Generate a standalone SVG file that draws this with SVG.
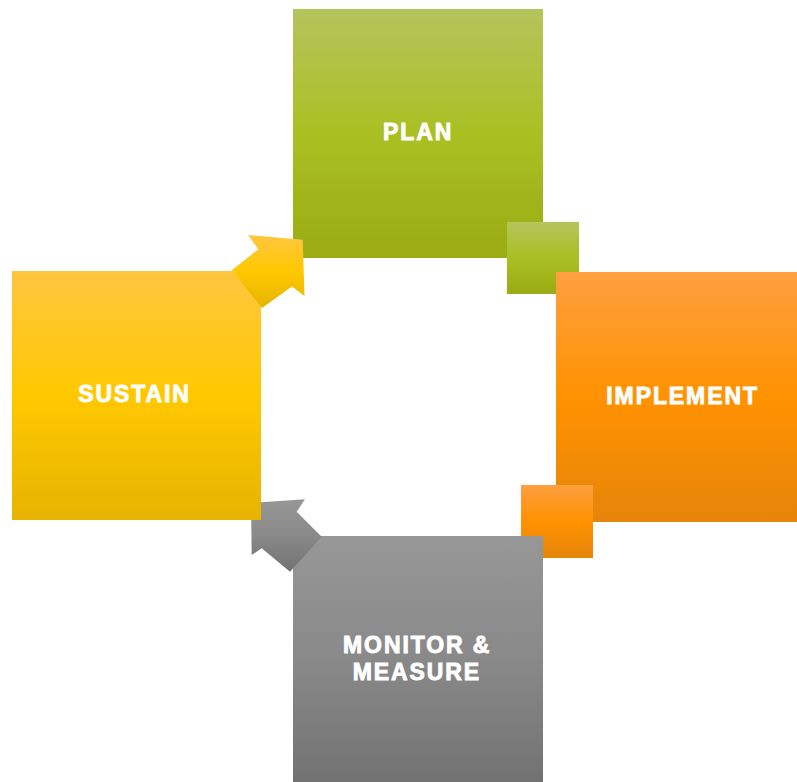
<svg xmlns="http://www.w3.org/2000/svg" width="797" height="782" viewBox="0 0 797 782">
  <defs>
    <linearGradient id="gGreen" x1="0" y1="0" x2="0" y2="1">
      <stop offset="0" stop-color="#b4c45c"/>
      <stop offset="0.5" stop-color="#a9c022"/>
      <stop offset="1" stop-color="#9aab13"/>
    </linearGradient>
    <linearGradient id="gOrange" x1="0" y1="0" x2="0" y2="1">
      <stop offset="0" stop-color="#ff9f40"/>
      <stop offset="0.5" stop-color="#ff9200"/>
      <stop offset="1" stop-color="#e6850a"/>
    </linearGradient>
    <linearGradient id="gYellow" x1="0" y1="0" x2="0" y2="1">
      <stop offset="0" stop-color="#ffc640"/>
      <stop offset="0.5" stop-color="#ffc800"/>
      <stop offset="1" stop-color="#e6b400"/>
    </linearGradient>
    <linearGradient id="gGray" x1="0" y1="0" x2="0" y2="1">
      <stop offset="0" stop-color="#979797"/>
      <stop offset="0.5" stop-color="#898989"/>
      <stop offset="1" stop-color="#727272"/>
    </linearGradient>
  </defs>
  <style>
    .lbl { font-family: "Liberation Sans", Arial, sans-serif; font-weight: bold; font-size: 23px; fill: #ffffff; stroke: #ffffff; stroke-width: 0.9px; text-anchor: middle; letter-spacing: 1.9px; }
  </style>
  <rect width="797" height="782" fill="#ffffff"/>

  <g id="plan">
    <rect x="293" y="9" width="250" height="249" fill="url(#gGreen)"/>
    <text class="lbl" x="418.2" y="139.5">PLAN</text>
  </g>
  <g id="connectors">
    <rect id="conn-plan-implement" x="507" y="222" width="72" height="72" fill="url(#gGreen)"/>
  </g>
  <g id="implement">
    <rect x="556" y="272" width="241" height="250" fill="url(#gOrange)"/>
    <text class="lbl" x="682.6" y="404.3">IMPLEMENT</text>
  </g>
  <g id="connectors2">
    <rect id="conn-implement-monitor" x="521" y="485" width="72" height="73" fill="url(#gOrange)"/>
  </g>
  <g id="monitor">
    <rect x="293" y="536" width="250" height="246" fill="url(#gGray)"/>
    <text class="lbl" x="417.2" y="652.7">MONITOR &amp;</text>
    <text class="lbl" x="416.8" y="680">MEASURE</text>
  </g>
  <g id="connectors3">
    <polygon id="conn-monitor-sustain" fill="url(#gGray)" points="251,503 305,499.3 296.7,511.7 321.7,536.7 290,571.7 261.7,548.3 251.7,555"/>
  </g>
  <g id="sustain">
    <rect x="12" y="271" width="249" height="249" fill="url(#gYellow)"/>
    <text class="lbl" x="134.6" y="402.4">SUSTAIN</text>
  </g>
  <g id="connectors4">
    <polygon id="conn-sustain-plan" fill="url(#gYellow)" points="248,235 302.7,239.7 304.5,296 292,286.5 262,308 232,270 258.3,249.3"/>
  </g>
</svg>
